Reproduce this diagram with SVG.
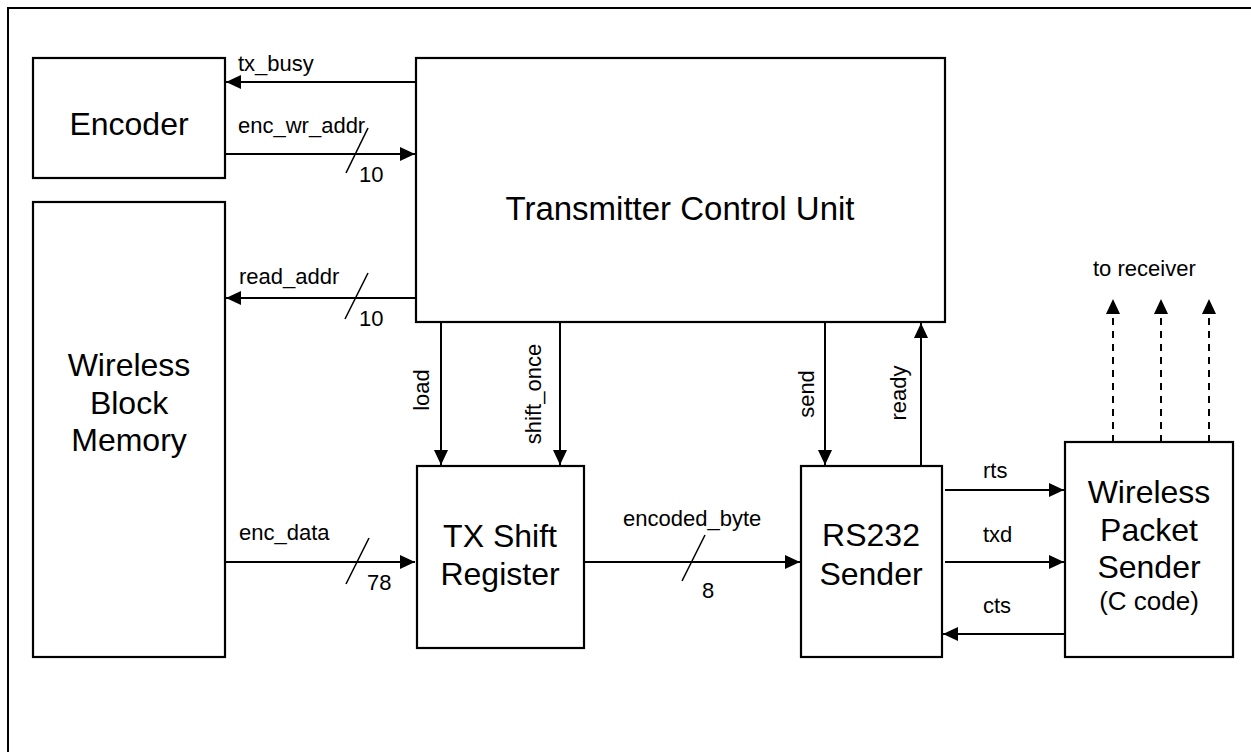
<svg xmlns="http://www.w3.org/2000/svg" width="1251" height="752" viewBox="0 0 1251 752">
<style>
.box{fill:#fff;stroke:#000;stroke-width:2.2}
.ln{fill:none;stroke:#000;stroke-width:2}
.dash{fill:none;stroke:#000;stroke-width:2;stroke-dasharray:7,6}
.sl{fill:none;stroke:#000;stroke-width:1.6}
.big{font-family:"Liberation Sans",Arial,sans-serif;font-size:32px;text-anchor:middle}
.sm{font-family:"Liberation Sans",Arial,sans-serif;font-size:22px}
.smc{font-family:"Liberation Sans",Arial,sans-serif;font-size:22px;text-anchor:middle}
.med{font-family:"Liberation Sans",Arial,sans-serif;font-size:26px;text-anchor:middle}
</style>
<defs>
<marker id="ah" markerUnits="userSpaceOnUse" markerWidth="15" markerHeight="14" refX="15" refY="7" orient="auto">
<path d="M0,0 L15,7 L0,14 Z" fill="#000"/>
</marker>
</defs>
<rect width="1251" height="752" fill="#fff"/>
<path d="M8,752 L8,8 L1251,8" fill="none" stroke="#000" stroke-width="2"/>

<g id="connectors">
<line class="ln" x1="416" y1="82" x2="226" y2="82" marker-end="url(#ah)"/>
<text class="sm" x="238" y="71">tx_busy</text>
<line class="ln" x1="225" y1="154" x2="415" y2="154" marker-end="url(#ah)"/>
<text class="sm" x="238" y="133">enc_wr_addr</text>
<line class="sl" x1="346" y1="173" x2="368" y2="128"/>
<text class="sm" x="359" y="182">10</text>
<line class="ln" x1="416" y1="298" x2="226" y2="298" marker-end="url(#ah)"/>
<text class="sm" x="239" y="284">read_addr</text>
<line class="sl" x1="345" y1="319" x2="368" y2="273"/>
<text class="sm" x="359" y="326">10</text>
<line class="ln" x1="225" y1="562" x2="415" y2="562" marker-end="url(#ah)"/>
<text class="sm" x="239" y="540">enc_data</text>
<line class="sl" x1="346" y1="584" x2="369" y2="538"/>
<text class="sm" x="367" y="590">78</text>
<line class="ln" x1="584" y1="562" x2="800" y2="562" marker-end="url(#ah)"/>
<text class="sm" x="623" y="526">encoded_byte</text>
<line class="sl" x1="682" y1="581" x2="705" y2="535"/>
<text class="sm" x="702" y="598">8</text>
<line class="ln" x1="441" y1="322" x2="441" y2="465" marker-end="url(#ah)"/>
<text class="smc" transform="translate(429,390) rotate(-90)">load</text>
<line class="ln" x1="560" y1="322" x2="560" y2="465" marker-end="url(#ah)"/>
<text class="smc" transform="translate(541,394) rotate(-90)">shift_once</text>
<line class="ln" x1="825" y1="322" x2="825" y2="465" marker-end="url(#ah)"/>
<text class="smc" transform="translate(814,394) rotate(-90)">send</text>
<line class="ln" x1="921" y1="466" x2="921" y2="323" marker-end="url(#ah)"/>
<text class="smc" transform="translate(906,393) rotate(-90)">ready</text>
<line class="ln" x1="945" y1="490" x2="1064" y2="490" marker-end="url(#ah)"/>
<text class="sm" x="983" y="478">rts</text>
<line class="ln" x1="945" y1="562" x2="1064" y2="562" marker-end="url(#ah)"/>
<text class="sm" x="983" y="542">txd</text>
<line class="ln" x1="1065" y1="634" x2="943" y2="634" marker-end="url(#ah)"/>
<text class="sm" x="983" y="613">cts</text>
<line class="dash" x1="1113" y1="442" x2="1113" y2="299" marker-end="url(#ah)"/>
<line class="dash" x1="1161" y1="442" x2="1161" y2="299" marker-end="url(#ah)"/>
<line class="dash" x1="1209" y1="442" x2="1209" y2="299" marker-end="url(#ah)"/>
<text class="sm" x="1093" y="276">to receiver</text>
</g>

<g id="encoder">
<rect class="box" x="33" y="58" width="192" height="120"/>
<text class="big" x="129" y="135">Encoder</text>
</g>
<g id="tcu">
<rect class="box" x="416" y="58" width="529" height="264"/>
<text class="big" x="680" y="220" style="font-size:33px">Transmitter Control Unit</text>
</g>
<g id="wbm">
<rect class="box" x="33" y="202" width="192" height="455"/>
<text class="big" x="129" y="376">Wireless</text>
<text class="big" x="129" y="414">Block</text>
<text class="big" x="129" y="451">Memory</text>
</g>
<g id="txsr">
<rect class="box" x="417" y="466" width="167" height="182"/>
<text class="big" x="500" y="547">TX Shift</text>
<text class="big" x="500" y="585">Register</text>
</g>
<g id="rs232">
<rect class="box" x="801" y="466" width="141" height="191"/>
<text class="big" x="871" y="546">RS232</text>
<text class="big" x="871" y="585">Sender</text>
</g>
<g id="wps">
<rect class="box" x="1065" y="442" width="168" height="215"/>
<text class="big" x="1149" y="503">Wireless</text>
<text class="big" x="1149" y="541">Packet</text>
<text class="big" x="1149" y="578">Sender</text>
<text class="med" x="1149" y="610">(C code)</text>
</g>
</svg>
